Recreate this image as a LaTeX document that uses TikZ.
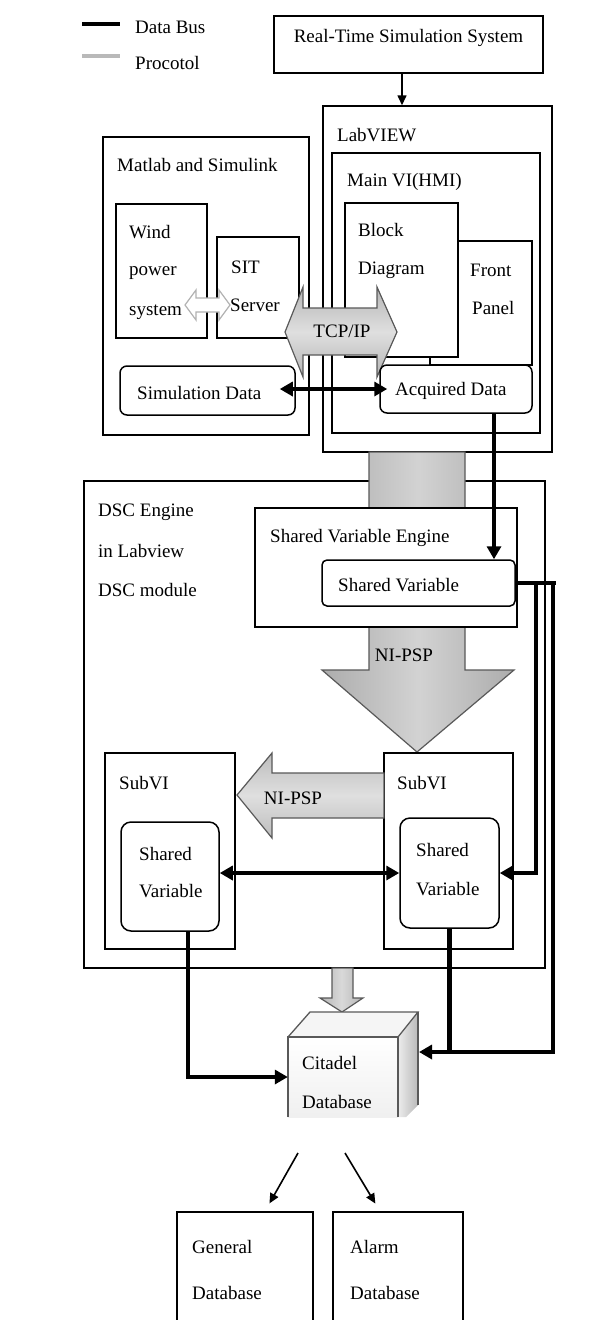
\documentclass[tikz,border=0pt]{standalone}
\usepackage{fontspec}
\setmainfont{Liberation Serif}
\usetikzlibrary{arrows.meta,fit,shadings}
\begin{document}
\begin{tikzpicture}[x=1pt,y=-1pt,
  every node/.style={font=\fontsize{19}{22}\selectfont},
  box/.style={draw=black,line width=1.5pt,fill=white,inner sep=0pt},
  rbox/.style={box,rounded corners=7pt},
  lbl/.style={anchor=west,inner sep=0pt},
  bus/.style={line width=4.5pt,draw=black,-{Triangle[length=13pt,width=14pt]}},
  busd/.style={line width=4.5pt,draw=black,{Triangle[length=13pt,width=14pt]}-{Triangle[length=13pt,width=14pt]}},
  busn/.style={line width=4.5pt,draw=black},
  fat/.style={draw=gray!70!black,line width=1.2pt},
  thinarr/.style={line width=1.6pt,-{Triangle[length=10pt,width=9pt]}}]
\useasboundingbox (0,0) rectangle (590,1320);
\clip (0,0) rectangle (590,1320);
\fill[white] (0,0) rectangle (590,1320);

% legend
\coordinate (db1) at (82,24); \coordinate (db2) at (120,24);
\coordinate (pr1) at (82,56); \coordinate (pr2) at (120,56);
\draw[busn] (db1) -- (db2);
\draw[line width=3.8pt,gray!55] (pr1) -- (pr2);
\node[lbl] (dbt) at (135,27) {Data Bus};
\node[lbl] (prt) at (135,63) {Procotol};

% real-time system
\node[box,line width=2.4pt,fit={(274,16) (543,73)}] (rts) {Real-Time Simulation System};
\coordinate (ar1) at (402,0);

% Matlab side
\node[box,fit={(103,137) (309,435)}] (mat) {};
\node[lbl] (matt) at (117,165) {Matlab and Simulink};
\node[box,fit={(116,204) (207,338)}] (wind) {};
\node[lbl] (wind1) at (129,232) {Wind};
\node[lbl] (wind2) at (129,273) {power};
\node[lbl] (wind3) at (129,312) {system};
\node[box,fit={(217,237) (299,338)}] (sit) {};
\node[lbl] (sit1) at (231,267) {SIT};
\node[lbl] (sit2) at (230,305) {Server};
\path[draw=gray!60,line width=1.2pt,fill=white]
  (185,305) -- (196,290) -- (196,298) -- (219,298) -- (219,290) -- (230,305)
  -- (219,320) -- (219,312) -- (196,312) -- (196,320) -- cycle;

% LabVIEW side
\node[box,fit={(323,106) (552,452)}] (lv) {};
\node[lbl] (lvt) at (337,135) {LabVIEW};
\node[box,fit={(332,153) (540,433)}] (mvi) {};
\node[lbl] (mvit) at (347,182) {Main VI(HMI)};
\node[box,fit={(430,241) (532,365)}] (fp) {};
\node[lbl] (fp1) at (470,270) {Front};
\node[lbl] (fp2) at (472,308) {Panel};
\node[box,fit={(345,203) (458,357)}] (bd) {};
\node[lbl] (bd1) at (358,230) {Block};
\node[lbl] (bd2) at (358,270) {Diagram};
\draw[thinarr] (rts.south -| ar1) -- (lv.north -| ar1);

% TCP/IP
\path[fat,top color=gray!58,bottom color=gray!58,middle color=gray!25]
  (285,332) -- (303,287) -- (303,308) -- (377,308) -- (377,287) -- (397,332)
  -- (377,377) -- (377,355) -- (303,355) -- (303,377) -- cycle;
\node (tcp) at (342,331) {TCP/IP};

% data boxes
\node[rbox,fit={(120,366) (295,415)}] (sim) {};
\node[lbl] (simt) at (137,393) {Simulation Data};
\node[rbox,fit={(380,365) (532,413)}] (acq) {};
\node[lbl] (acqt) at (395,391) {Acquired Data};
\draw[busd,shorten <=-16pt,shorten >=-8pt] (sim.east |- acq.west) -- (acq.west);

% DSC engine
\node[box,fit={(84,481) (545,968)}] (dsc) {};
\node[lbl] (dsc1) at (98,512) {DSC Engine};
\node[lbl] (dsc2) at (98,551) {in Labview};
\node[lbl] (dsc3) at (98,590) {DSC module};

% big gray arrow
\path[fat,left color=gray!65,right color=gray!65,middle color=gray!35]
  (369,452) -- (465,452) -- (465,670) -- (514,670) -- (417,752) -- (322,670) -- (369,670) -- cycle;

\node[box,fit={(255,508) (517,627)}] (sve) {};
\node[lbl] (svet) at (270,538) {Shared Variable Engine};
\node[rbox,rounded corners=5pt,fit={(322,560) (515,606)}] (sv) {};
\node[lbl] (svt) at (338,585) {Shared Variable};
\node (psp1) at (404,655) {NI-PSP};

\coordinate (x494) at (494,0);
\draw[bus] (acq.south -| x494) -- (sv.north -| x494);

% SubVIs
\node[box,fit={(384,753) (513,949)}] (rsub) {};
\node[lbl] (rsubt) at (397,783) {SubVI};
\node[rbox,rounded corners=10pt,fit={(400,818) (499,928)}] (rsv) {};
\node[lbl] (rsv1) at (416,850) {Shared};
\node[lbl] (rsv2) at (416,889) {Variable};
\node[box,fit={(105,753) (235,949)}] (lsub) {};
\node[lbl] (lsubt) at (119,783) {SubVI};
\node[rbox,rounded corners=10pt,fit={(121,822) (219,931)}] (lsv) {};
\node[lbl] (lsv1) at (139,854) {Shared};
\node[lbl] (lsv2) at (139,891) {Variable};

\path[fat,top color=gray!52,bottom color=gray!52,middle color=gray!25]
  (384,773) -- (272,773) -- (272,753) -- (237,795) -- (272,838) -- (272,818) -- (384,818) -- cycle;
\node (psp2) at (293,798) {NI-PSP};

\draw[busd] (lsv.east |- rsv.west) -- (rsv.west);

% Citadel cube
\path[fat,left color=gray!58,right color=gray!58,middle color=gray!30]
  (332,968) -- (353,968) -- (353,998) -- (363,998) -- (342,1012) -- (320,998) -- (332,998) -- cycle;
\path[fill=gray!8] (288,1037) -- (310,1012) -- (418,1012) -- (398,1037) -- cycle;
\path[left color=gray!15,right color=gray!55] (398,1037) -- (418,1012) -- (418,1105) -- (406,1117) -- (398,1117) -- cycle;
\path[top color=white,bottom color=gray!12] (288,1037) rectangle (398,1117);
\draw[gray!70!black,line width=1.3pt] (288,1117) -- (288,1037) -- (398,1037) -- (398,1117);
\draw[gray!70!black,line width=1.3pt] (288,1037) -- (310,1012) -- (418,1012) -- (398,1037);
\draw[gray!70!black,line width=1.3pt] (418,1012) -- (418,1105);
\node[fit={(288,1037) (398,1117)},inner sep=0pt] (cit) {};
\node[lbl] (cit1) at (302,1063) {Citadel};
\node[lbl] (cit2) at (302,1102) {Database};
\coordinate (citR) at (419,1052);

% data bus lines
\coordinate (xi) at (536,0);
\coordinate (xo) at (553,0);
\coordinate (xe) at (556,0);
\coordinate (x188) at (188,0);
\draw[busn] (sv.east) -- (sv.east -| xe);
\draw[bus] (sv.east -| xi) -- (xi |- rsv.east) -- (rsv.east);
\draw[bus] (sv.east -| xo) -- (xo |- citR) -- (citR);
\draw[busn] (rsv.south) -- (rsv.south |- citR);
\draw[bus] (lsv.south -| x188) -- (x188 |- cit.west) -- (cit.west);

% bottom databases
\coordinate (b1) at (298,1153);
\coordinate (b2) at (345,1153);
\node[box,fit={(177,1212) (313,1330)}] (gen) {};
\node[lbl] (gen1) at (192,1247) {General};
\node[lbl] (gen2) at (192,1293) {Database};
\node[box,fit={(333,1212) (463,1330)}] (alm) {};
\node[lbl] (alm1) at (350,1247) {Alarm};
\node[lbl] (alm2) at (350,1293) {Database};
\draw[thinarr,shorten >=9pt] (b1) -- ([xshift=20pt]gen.north);
\draw[thinarr,shorten >=9pt] (b2) -- ([xshift=-18pt]alm.north);
\end{tikzpicture}
\end{document}
